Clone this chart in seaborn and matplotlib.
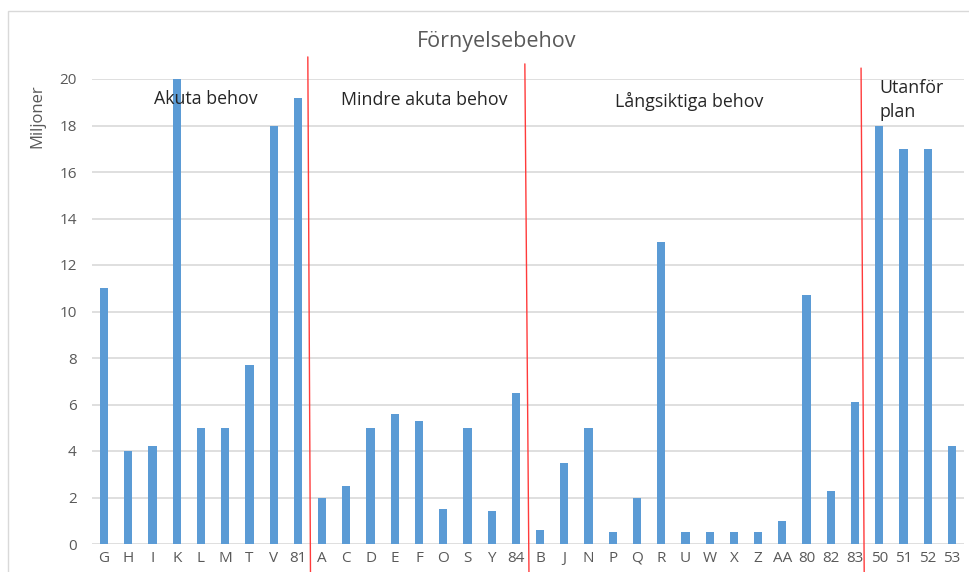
import pandas as pd
import numpy as np
import matplotlib
matplotlib.use('Agg')
import matplotlib.pyplot as plt
import matplotlib.patches as patches
import seaborn as sns

# data (millions)
categories = ['G', 'H', 'I', 'K', 'L', 'M', 'T', 'V', '81',
              'A', 'C', 'D', 'E', 'F', 'O', 'S', 'Y', '84',
              'B', 'J', 'N', 'P', 'Q', 'R', 'U', 'W', 'X', 'Z', 'AA', '80', '82', '83',
              '50', '51', '52', '53']
values = [11, 4, 4.2, 20, 5, 5, 7.7, 18, 19.2,
          2, 2.5, 5, 5.6, 5.3, 1.5, 5, 1.4, 6.5,
          0.6, 3.5, 5, 0.5, 2, 13, 0.5, 0.5, 0.5, 0.5, 1, 10.7, 2.3, 6.1,
          18, 17, 17, 4.2]
group_labels = ['Akuta behov', 'Mindre akuta behov', 'Långsiktiga behov', 'Utanför\nplan']
y_ticks = [0, 2, 4, 6, 8, 10, 12, 14, 16, 18, 20]

df = pd.DataFrame({'kategori': categories, 'miljoner': values})

sns.set_style('white')
plt.rcParams['font.family'] = ['Open Sans', 'DejaVu Sans']

fig = plt.figure(figsize=(9.7, 5.72), dpi=100)
ax = fig.add_axes([92 / 970, 28 / 572, 872 / 970, 465 / 572])

# light frame around the chart area (cropped at right/bottom)
fig.patches.append(patches.Rectangle((8 / 970, -0.1), 1.2, (572 - 11) / 572 + 0.1,
                                     transform=fig.transFigure, fill=False,
                                     edgecolor='#d9d9d9', linewidth=1))

sns.barplot(data=df, x='kategori', y='miljoner', color='#5B9BD5', saturation=1,
            width=0.34, linewidth=0, ax=ax, zorder=3)

ax.set_xlim(-0.5, len(categories) - 0.5)
ax.set_ylim(0, 20)
ax.set_yticks(y_ticks)
ax.yaxis.grid(True, color='#d9d9d9', linewidth=1.2, zorder=0)
ax.set_axisbelow(True)
for s in ax.spines.values():
    s.set_visible(False)
ax.tick_params(axis='both', length=0, colors='#595959', labelsize=11)
ax.tick_params(axis='y', pad=11)
ax.tick_params(axis='x', pad=5)
ax.set_xlabel('')
ax.set_ylabel('Miljoner', color='#595959', fontsize=12)
ax.yaxis.set_label_coords(-0.053, 0.92)

fig.text(497 / 970, 1 - 42 / 572, 'Förnyelsebehov', ha='center', va='center',
         fontsize=15.5, color='#595959')

# separators between the groups (hand drawn, slightly slanted)
separators = [(8.41, 8.52, 20.95), (17.37, 17.54, 20.65), (31.25, 31.38, 20.47)]
for x_top, x_bot, y_top in separators:
    ax.plot([x_top, x_bot], [y_top, -1.3], color='#ff3b3b', linewidth=1,
            clip_on=False, zorder=4)

ax.text(2.06, 19.15, group_labels[0], fontsize=12.8, va='center', ha='left')
ax.text(9.8, 19.1, group_labels[1], fontsize=12.8, va='center', ha='left')
ax.text(21.1, 19.05, group_labels[2], fontsize=12.8, va='center', ha='left')
ax.text(32.0, 19.1, group_labels[3], fontsize=12.8, va='center', ha='left',
        linespacing=1.45)

fig.savefig('out.png', dpi=100)
